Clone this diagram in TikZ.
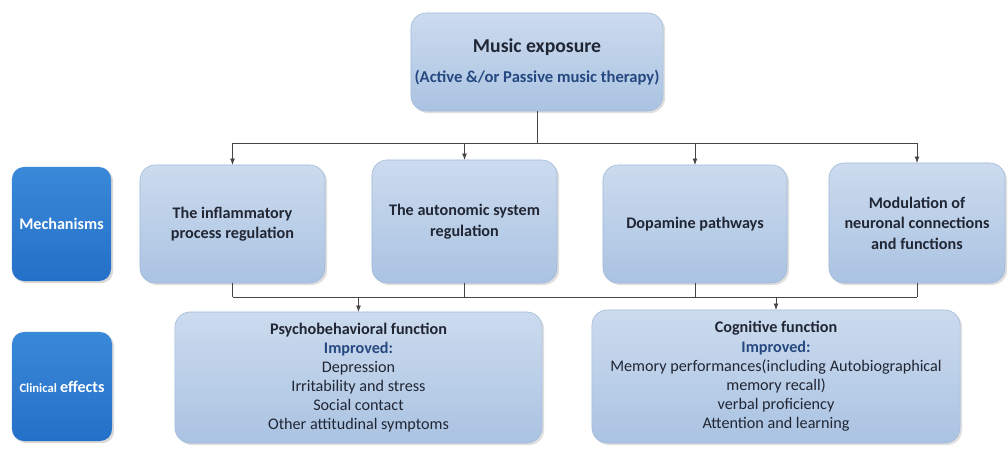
\documentclass[tikz,border=0pt]{standalone}
\usepackage{fontspec}
\setmainfont{Carlito}
\usepackage{xcolor}
\usepackage{tikz}
\usetikzlibrary{arrows.meta, positioning, shadows}

\definecolor{boxtop}{RGB}{204,219,238}
\definecolor{boxbot}{RGB}{170,195,226}
\definecolor{boxline}{RGB}{160,186,218}
\definecolor{tagblue}{RGB}{36,112,200}
\definecolor{tagtop}{RGB}{58,136,216}
\definecolor{inkdark}{RGB}{33,38,52}
\definecolor{impblue}{RGB}{38,72,128}
\definecolor{wire}{RGB}{70,70,70}

\begin{document}
\begin{tikzpicture}[
  x=0.025cm, y=-0.025cm,
  pale/.style={
    draw=boxline,
    thin,
    top color=boxtop,
    bottom color=boxbot,
    rounded corners=0.38cm,
    drop shadow={shadow xshift=1.5pt, shadow yshift=-1.5pt, opacity=0.25},
    inner sep=2pt,
    outer sep=0pt,
    align=center,
    text=inkdark
  },
  mech/.style={
    pale,
    font=\bfseries\fontsize{11.5}{14.5}\selectfont
  },
  effect/.style={
    pale,
    font=\fontsize{11.5}{13.6}\selectfont
  },
  tag/.style={
    draw=none,
    top color=tagtop,
    bottom color=tagblue,
    rounded corners=0.3cm,
    drop shadow={shadow xshift=1.5pt, shadow yshift=-1.5pt, opacity=0.3},
    text=white,
    inner sep=1pt,
    outer sep=0pt,
    align=center
  },
  arr/.style={
    -{Latex[length=1.6mm, width=1.2mm]},
    wire,
    line width=0.5pt
  },
  wireline/.style={
    wire,
    line width=0.5pt
  }
]

\useasboundingbox (0,0) rectangle (1008,455);

% Top box
\node [pale, minimum width=6.3cm, minimum height=2.45cm] (music) at (537,62)
  {\bfseries\fontsize{14}{16}\selectfont Music exposure\\[9pt]
   \bfseries\fontsize{11.8}{13}\selectfont\color{impblue}(Active \&/or Passive music therapy)};

% Row labels
\node [tag, minimum width=2.475cm, minimum height=2.85cm,
       font=\bfseries\fontsize{11.5}{13}\selectfont] (mechtag) at (61.5,224) {Mechanisms};
\node [tag, minimum width=2.5cm, minimum height=2.725cm, font=\bfseries] (clinictag) at (62,386.5)
  {{\fontsize{9}{11}\selectfont Clinical} {\fontsize{11.5}{13}\selectfont effects}};

% Mechanisms
\node [mech, minimum width=4.625cm, minimum height=2.95cm] (m1) at (232.5,224)
  {The inflammatory\\process regulation};
\node [mech, minimum width=4.625cm, minimum height=3.075cm] (m2) at (464.5,221.5)
  {The autonomic system\\regulation};
\node [mech, minimum width=4.6cm, minimum height=2.95cm] (m3) at (695,224)
  {Dopamine pathways};
\node [mech, minimum width=4.4cm, minimum height=3cm] (m4) at (917,223)
  {Modulation of\\neuronal connections\\and functions};

% Clinical effects
\node [effect, minimum width=9.175cm, minimum height=3.275cm] (psy) at (358.5,377.5)
  {\textbf{Psychobehavioral function}\\
   {\bfseries\color{impblue}Improved:}\\
   Depression\\
   Irritability and stress\\
   Social contact\\
   Other attitudinal symptoms};
\node [effect, minimum width=9.2cm, minimum height=3.325cm] (cog) at (776,376.5)
  {\textbf{Cognitive function}\\
   {\bfseries\color{impblue}Improved:}\\
   Memory performances(including Autobiographical\\
   memory recall)\\
   verbal proficiency\\
   Attention and learning};

% Connectors: exposure to mechanisms
\coordinate (topbus) at (537,143);
\draw [wireline] (music.south) -- (topbus);
\draw [wireline] (m1.north |- topbus) -- (m4.north |- topbus);
\foreach \m in {m1,m2,m3,m4}
  \draw [arr] (\m.north |- topbus) -- (\m.north);

% Connectors: mechanisms to effects
\coordinate (lowbus) at (537,297);
\foreach \m in {m1,m2,m3,m4}
  \draw [wireline] (\m.south) -- (\m.south |- lowbus);
\draw [wireline] (m1.south |- lowbus) -- (m4.south |- lowbus);
\draw [arr] (psy.north |- lowbus) -- (psy.north);
\draw [arr] (cog.north |- lowbus) -- (cog.north);

\end{tikzpicture}
\end{document}
